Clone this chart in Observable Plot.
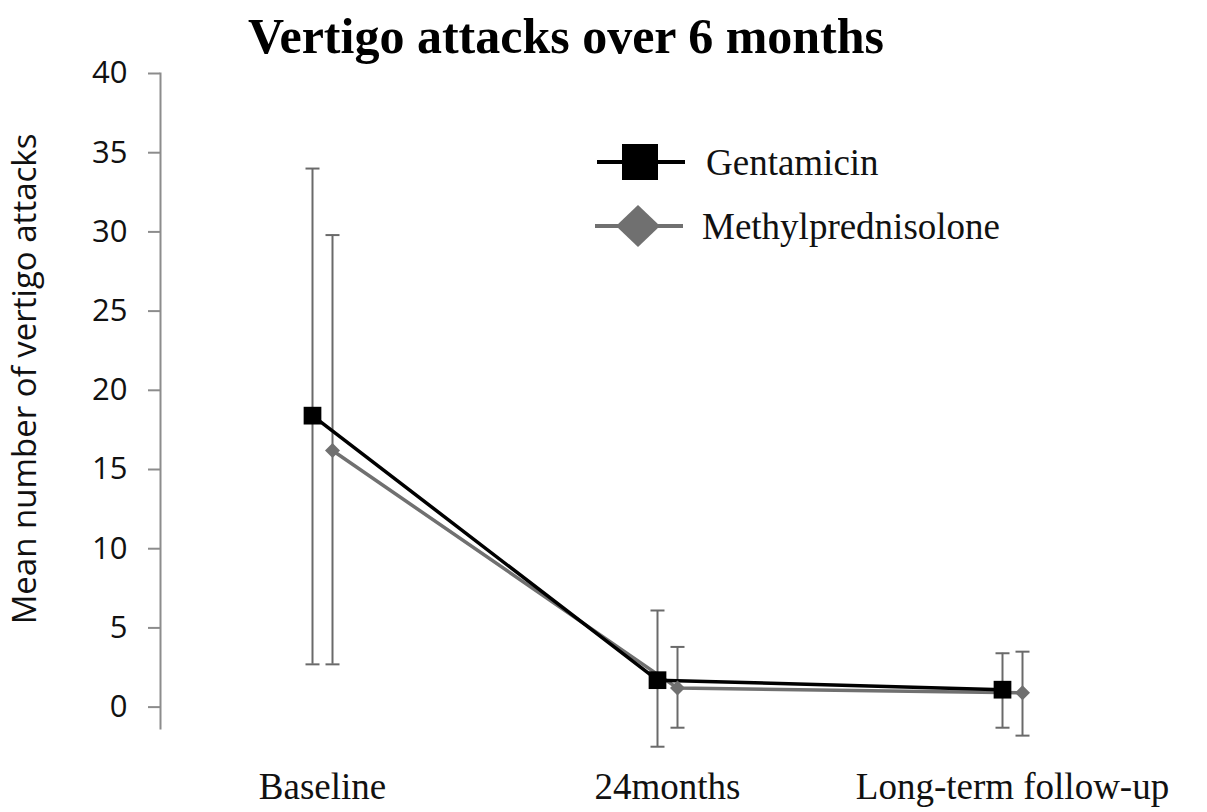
<!DOCTYPE html>
<html>
<head>
<meta charset="utf-8">
<script src="https://cdn.jsdelivr.net/npm/d3@7"></script>
<script src="https://cdn.jsdelivr.net/npm/@observablehq/plot@0.6"></script>
<style>
  html, body { margin: 0; padding: 0; background: #fff; }
  #wrap { position: relative; width: 1207px; height: 812px; overflow: hidden; }
  #title { position: absolute; left: 0; width: 1132px; top: 11px; text-align: center;
           font-family: "Liberation Serif", serif; font-weight: bold; font-size: 50px; line-height: 50px; color: #000; }
  .leg { position: absolute; display: flex; align-items: center; height: 50px;
         font-family: "Liberation Serif", serif; font-size: 37px; color: #111; }
  .leg svg { display: block; }
</style>
</head>
<body>
<div id="wrap">
  <div id="chart"></div>
  <div id="title"></div>
  <div id="legend"></div>
</div>
<script>
const title = "Vertigo attacks over 6 months";
const yLabel = "Mean number of vertigo attacks";
const categories = ["Baseline", "24months", "Long-term follow-up"];
const seriesNames = ["Gentamicin", "Methylprednisolone"];
const gentMean = [18.4, 1.7, 1.1];
const gentLow  = [2.7, -2.5, -1.3];
const gentHigh = [34.0, 6.1, 3.4];
const methMean = [16.2, 1.2, 0.9];
const methLow  = [2.7, -1.3, -1.8];
const methHigh = [29.8, 3.8, 3.5];
const yTicks = [0, 5, 10, 15, 20, 25, 30, 35, 40];

const gent = categories.map((c, i) => ({cat: c, mean: gentMean[i], low: gentLow[i], high: gentHigh[i]}));
const meth = categories.map((c, i) => ({cat: c, mean: methMean[i], low: methLow[i], high: methHigh[i]}));

const diamond = {
  draw(context, size) {
    const h = Math.sqrt(size / Math.PI);
    context.moveTo(0, -h);
    context.lineTo(h, 0);
    context.lineTo(0, h);
    context.lineTo(-h, 0);
    context.closePath();
  }
};
const capSymbol = {
  draw(context, size) {
    const h = Math.sqrt(size / Math.PI);
    context.moveTo(-h, 0);
    context.lineTo(h, 0);
  }
};

const errColor = "#6a6a6a";
const gentColor = "#000000";
const methColor = "#707070";

function errorMarks(data, dx) {
  return [
    Plot.ruleX(data, {x: "cat", y1: "low", y2: "high", dx, stroke: errColor, strokeWidth: 2}),
    Plot.dot(data, {x: "cat", y: "low", dx, symbol: capSymbol, r: 7, fill: "none", stroke: errColor, strokeWidth: 2}),
    Plot.dot(data, {x: "cat", y: "high", dx, symbol: capSymbol, r: 7, fill: "none", stroke: errColor, strokeWidth: 2})
  ];
}

const chart = Plot.plot({
  width: 1207,
  height: 812,
  marginTop: 73,
  marginBottom: 84,
  marginLeft: 160,
  marginRight: 0,
  style: {background: "transparent", color: "#111"},
  x: {type: "point", domain: categories, range: [322, 1012], padding: 0},
  y: {domain: [-1.35, 40]},
  marks: [
    Plot.frame({anchor: "left", stroke: "#8c8c8c", strokeWidth: 2}),
    Plot.axisY({
      ticks: yTicks, tickSize: 12, tickPadding: 21, stroke: "#8c8c8c", strokeWidth: 2,
      fontSize: 31, fontFamily: "Open Sans", fill: "#111",
      label: yLabel, labelAnchor: "center", labelArrow: "none", labelOffset: 148
    }),
    Plot.axisX({
      tickSize: 0, tickPadding: 44, fontSize: 37, fontFamily: "Liberation Serif", fill: "#111", label: null
    }),
    ...errorMarks(gent, -10),
    ...errorMarks(meth, 10),
    Plot.line(meth, {x: "cat", y: "mean", dx: 10, stroke: methColor, strokeWidth: 3.5}),
    Plot.line(gent, {x: "cat", y: "mean", dx: -10, stroke: gentColor, strokeWidth: 3.5}),
    Plot.dot(meth, {x: "cat", y: "mean", dx: 10, symbol: diamond, r: 7.5, fill: methColor, stroke: "none"}),
    Plot.dot(gent, {x: "cat", y: "mean", dx: -10, symbol: "square", r: 10, fill: gentColor, stroke: "none"})
  ]
});
document.getElementById("chart").appendChild(chart);
chart.querySelectorAll("[aria-label='y-axis tick label']").forEach(el => {
  el.setAttribute("font-size", 31);
  el.setAttribute("font-family", "Open Sans");
});
chart.querySelectorAll("[aria-label='x-axis tick label']").forEach(el => {
  el.setAttribute("font-size", 37);
  el.setAttribute("font-family", "Liberation Serif");
});
chart.querySelectorAll("[aria-label='y-axis label']").forEach(el => {
  el.setAttribute("font-size", 33);
  el.setAttribute("font-family", "Open Sans");
  el.querySelectorAll("text").forEach(t => {
    const tr = t.getAttribute("transform") || "";
    t.setAttribute("transform", "translate(0,-22) " + tr);
  });
});

document.getElementById("title").textContent = title;

const legend = document.getElementById("legend");
const legendSpecs = [
  {name: seriesNames[0], color: gentColor, shape: "square", top: 137, left: 595, gap: 21},
  {name: seriesNames[1], color: methColor, shape: "diamond", top: 201, left: 593, gap: 19}
];
legendSpecs.forEach(s => {
  const row = document.createElement("div");
  row.className = "leg";
  row.style.top = s.top + "px";
  row.style.left = s.left + "px";
  const svg = d3.create("svg").attr("width", 90).attr("height", 50);
  svg.append("line").attr("x1", 2).attr("x2", 90).attr("y1", 25).attr("y2", 25)
    .attr("stroke", s.color).attr("stroke-width", 4);
  if (s.shape === "square") {
    svg.append("rect").attr("x", 27).attr("y", 7).attr("width", 36).attr("height", 36).attr("fill", s.color);
  } else {
    svg.append("path").attr("d", "M45,4L67,25L45,46L23,25Z").attr("fill", s.color);
  }
  row.appendChild(svg.node());
  const t = document.createElement("span");
  t.textContent = s.name;
  t.style.marginLeft = s.gap + "px";
  row.appendChild(t);
  legend.appendChild(row);
});
</script>
</body>
</html>
